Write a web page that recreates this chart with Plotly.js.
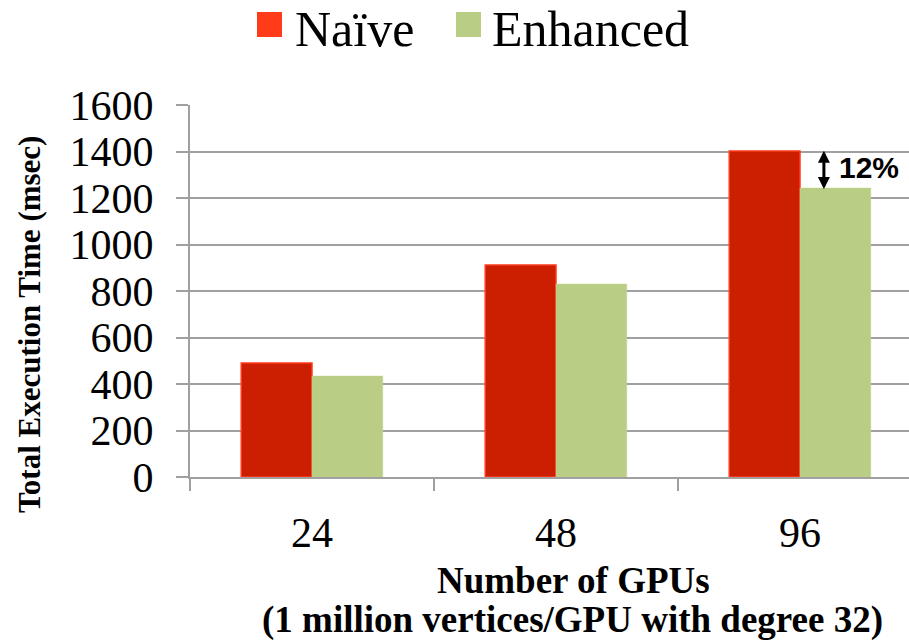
<!DOCTYPE html>
<html>
<head>
<meta charset="utf-8">
<script src="https://cdn.plot.ly/plotly-3.0.1.min.js"></script>
<style>html,body{margin:0;padding:0;background:#fff;}#chart{width:909px;height:640px;}</style>
</head>
<body>
<div id="chart"></div>
<script>
var categories = ["24", "48", "96"];
var naive = [490, 912, 1402];
var enhanced = [434, 830, 1243];
var seriesNames = ["Naïve", "Enhanced"];
var yTicks = [0, 200, 400, 600, 800, 1000, 1200, 1400, 1600];
var improvementLabel = "12%";

var serif = "'Liberation Serif', 'Times New Roman', Times, serif";
var gridColor = "#a0a0a0";

var traces = [
  {type: "bar", name: seriesNames[0], x: categories, y: naive,
   marker: {color: "#CC1E00", line: {color: "#FF3A1A", width: 1.5}}},
  {type: "bar", name: seriesNames[1], x: categories, y: enhanced,
   marker: {color: "#B9CD84", line: {color: "#C2D48F", width: 0.5}}}
];

var L = 190, R = 909, T = 105, B = 477;
function px(x) { return (x - L) / (R - L); }
function py(y) { return (B - y) / (B - T); }

var layout = {
  width: 909, height: 640,
  margin: {l: L, r: 909 - R, t: T, b: 640 - B, pad: 0},
  paper_bgcolor: "#fff", plot_bgcolor: "#fff",
  font: {family: serif},
  barmode: "group", bargap: 0.42, bargroupgap: 0,
  showlegend: false,
  xaxis: {
    type: "category", range: [-0.5, -0.5 + (R - L) / 244],
    showline: true, linecolor: gridColor, linewidth: 2,
    ticks: "outside", tickson: "boundaries", ticklen: 12, tickcolor: gridColor, tickwidth: 2,
    ticklabelstandoff: 18,
    tickfont: {family: serif, size: 42, color: "#000"},
    showgrid: false, zeroline: false
  },
  yaxis: {
    range: [0, 1600], tickvals: yTicks,
    showline: true, linecolor: gridColor, linewidth: 2,
    ticks: "outside", ticklen: 12, tickcolor: gridColor, tickwidth: 2,
    ticklabelstandoff: 14,
    tickfont: {family: serif, size: 42, color: "#000"},
    showgrid: true, gridcolor: gridColor, gridwidth: 2,
    zeroline: false
  },
  shapes: [
    {type: "rect", xref: "paper", yref: "paper", x0: px(257), x1: px(282), y0: py(37), y1: py(12),
     fillcolor: "#FF3B1A", line: {width: 0}},
    {type: "rect", xref: "paper", yref: "paper", x0: px(456), x1: px(481), y0: py(37), y1: py(12),
     fillcolor: "#B9CD84", line: {width: 0}}
  ],
  annotations: [
    {xref: "paper", yref: "paper", x: px(293), y: py(29), xanchor: "left", yanchor: "middle",
     text: seriesNames[0], showarrow: false, font: {family: serif, size: 50, color: "#000"}},
    {xref: "paper", yref: "paper", x: px(490), y: py(29), xanchor: "left", yanchor: "middle",
     text: seriesNames[1], showarrow: false, font: {family: serif, size: 50, color: "#000"}},
    {xref: "paper", yref: "paper", x: px(29), y: py(325), xanchor: "center", yanchor: "middle", textangle: -90,
     text: "<b>Total Execution Time (msec)</b>", showarrow: false, font: {family: serif, size: 31, color: "#000"}},
    {xref: "paper", yref: "paper", x: px(573), y: py(580), xanchor: "center", yanchor: "middle",
     text: "<b>Number of GPUs</b>", showarrow: false, font: {family: serif, size: 37, color: "#000"}},
    {xref: "paper", yref: "paper", x: px(572), y: py(620), xanchor: "center", yanchor: "middle",
     text: "<b>(1 million vertices/GPU with degree 32)</b>", showarrow: false, font: {family: serif, size: 37, color: "#000"}},
    {xref: "x", yref: "y", axref: "x", ayref: "y",
     x: 2.098, y: enhanced[2] - 4, ax: 2.098, ay: naive[2] + 8,
     text: "", showarrow: true, arrowside: "end+start", arrowhead: 2, arrowsize: 0.8, arrowwidth: 3,
     arrowcolor: "#000", standoff: 0, startstandoff: 0},
    {xref: "x", yref: "y", x: 2.15, y: (naive[2] + enhanced[2]) / 2 + 8, xanchor: "left", yanchor: "middle",
     text: "<b>" + improvementLabel + "</b>", showarrow: false,
     font: {family: "'Liberation Sans', Arial, sans-serif", size: 30, color: "#000"}}
  ]
};

Plotly.newPlot("chart", traces, layout, {displayModeBar: false, responsive: false});
</script>
</body>
</html>
